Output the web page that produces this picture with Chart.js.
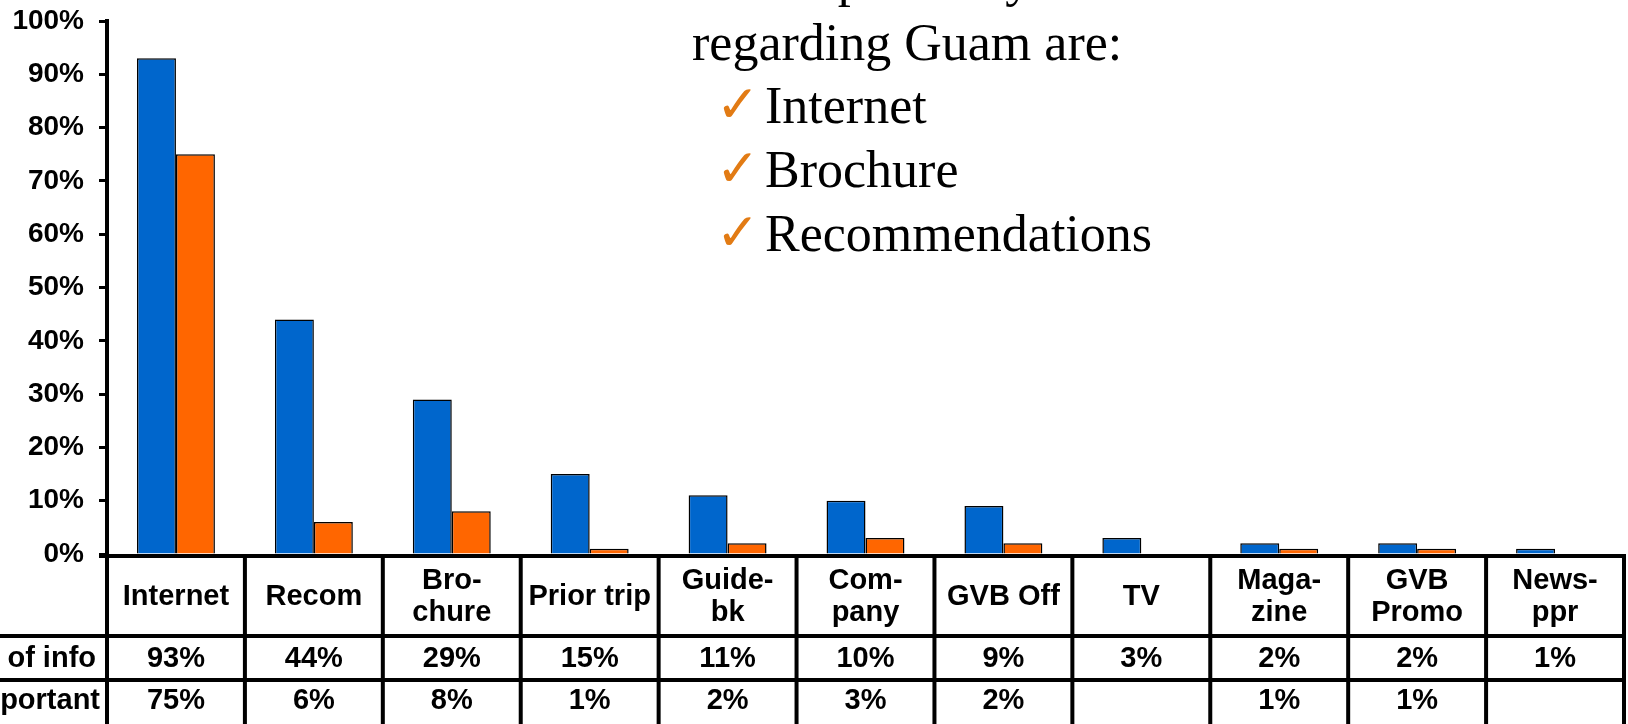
<!DOCTYPE html>
<html>
<head>
<meta charset="utf-8">
<script src="https://cdn.jsdelivr.net/npm/chart.js@4/dist/chart.umd.min.js"></script>
<style>
  html, body { margin: 0; padding: 0; background: #fff; }
  .chart-wrap { width: 1628px; height: 724px; position: relative; }
</style>
</head>
<body>
<div class="chart-wrap"><canvas id="sourcesChart"></canvas></div>
<script>
// categories, with the line breaks used in the table header
const categories = [
  ["Internet"], ["Recom"], ["Bro-", "chure"], ["Prior trip"], ["Guide-", "bk"],
  ["Com-", "pany"], ["GVB Off"], ["TV"], ["Maga-", "zine"], ["GVB", "Promo"], ["News-", "ppr"]
];
const rowLabels = ["Source of info", "Most important"];
const sourceOfInfo = [93, 44, 29, 15, 11, 10, 9, 3, 2, 2, 1];
const mostImportant = [75, 6, 8, 1, 2, 3, 2, null, 1, 1, null];
const yTicks = [0, 10, 20, 30, 40, 50, 60, 70, 80, 90, 100];

const headline = ["Media primarily used", "regarding Guam are:"];
const checkItems = ["Internet", "Brochure", "Recommendations"];

const BLUE = "#0066CC";
const ORANGE = "#FF6600";
const tableFont = "bold 29px 'Century Gothic', 'Liberation Sans', Arial, sans-serif";

// data table under the x axis, laid out on the x scale's category slots
const dataTable = {
  id: "dataTable",
  afterDraw(chart) {
    const { ctx, chartArea } = chart;
    const x = chart.scales.x;
    const n = categories.length;
    const half = (x.getPixelForValue(1) - x.getPixelForValue(0)) / 2;
    const left = x.getPixelForValue(0) - half;
    const right = x.getPixelForValue(n - 1) + half;
    const top = chartArea.bottom;
    const rows = [top + 2, top + 82, top + 126, top + 170];

    ctx.save();
    ctx.strokeStyle = "#000";
    ctx.lineWidth = 4;
    ctx.beginPath();
    ctx.moveTo(left - 8, rows[0]);
    ctx.lineTo(right + 2, rows[0]);
    ctx.moveTo(0, rows[1]);
    ctx.lineTo(right + 2, rows[1]);
    ctx.moveTo(0, rows[2]);
    ctx.lineTo(right + 2, rows[2]);
    for (let i = 0; i <= n; i++) {
      const xe = left + i * half * 2;
      ctx.moveTo(xe, top);
      ctx.lineTo(xe, chart.height);
    }
    ctx.stroke();

    ctx.fillStyle = "#000";
    ctx.font = tableFont;
    ctx.textAlign = "center";
    ctx.textBaseline = "middle";
    const lineH = 32;
    categories.forEach((lines, i) => {
      const cx = x.getPixelForValue(i);
      const cy = (rows[0] + rows[1]) / 2 + 1;
      lines.forEach((t, j) => {
        ctx.fillText(t, cx, cy + (j - (lines.length - 1) / 2) * lineH);
      });
      const a = sourceOfInfo[i];
      const b = mostImportant[i];
      if (a != null) ctx.fillText(a + "%", cx, (rows[1] + rows[2]) / 2 + 1);
      if (b != null) ctx.fillText(b + "%", cx, (rows[2] + rows[3]) / 2 - 1);
    });

    ctx.textAlign = "right";
    ctx.fillText(rowLabels[0], left - 11, (rows[1] + rows[2]) / 2 + 1);
    ctx.fillText(rowLabels[1], left - 7, (rows[2] + rows[3]) / 2 - 1);
    ctx.restore();
  }
};

// text box with the headline and the checked list
const headlineBox = {
  id: "headlineBox",
  afterDraw(chart) {
    const { ctx } = chart;
    const serif = "52px 'Liberation Serif', 'Times New Roman', serif";
    ctx.save();
    ctx.fillStyle = "#000";
    ctx.textAlign = "left";
    ctx.textBaseline = "alphabetic";
    ctx.font = serif;
    ctx.fillText(headline[0], 692, -4);
    ctx.fillText(headline[1], 692, 60);
    checkItems.forEach((t, i) => {
      const base = 123 + i * 64;
      ctx.font = serif;
      ctx.fillStyle = "#000";
      ctx.fillText(t, 765, base);
      ctx.font = "bold 52px 'DejaVu Sans', sans-serif";
      ctx.fillStyle = "#E27B14";
      ctx.fillText("\u2713", 716, base - 1);
    });
    ctx.restore();
  }
};

const ctx = document.getElementById("sourcesChart").getContext("2d");

window.sourcesChart = new Chart(ctx, {
  type: "bar",
  data: {
    labels: categories.map((c) => c.join(" ")),
    datasets: [
      {
        label: rowLabels[0],
        data: sourceOfInfo,
        backgroundColor: BLUE,
        borderColor: "#000",
        borderWidth: 1.5,
      },
      {
        label: rowLabels[1],
        data: mostImportant,
        backgroundColor: ORANGE,
        borderColor: "#000",
        borderWidth: 1.5,
      },
    ],
  },
  options: {
    responsive: true,
    maintainAspectRatio: false,
    animation: false,
    layout: {
      padding: { top: 21, right: 4, bottom: 170, left: 0 },
    },
    datasets: {
      bar: {
        barPercentage: 1,
        categoryPercentage: 0.565,
      },
    },
    scales: {
      x: {
        display: false,
      },
      y: {
        min: 0,
        max: 100,
        afterFit(scale) {
          scale.width = 107;
          scale.paddingTop = 0;
          scale.paddingBottom = 0;
        },
        afterBuildTicks(scale) {
          scale.ticks = yTicks.map((v) => ({ value: v }));
        },
        ticks: {
          color: "#000",
          padding: 15,
          font: {
            family: "'Liberation Sans', Arial, sans-serif",
            size: 28,
            weight: "bold",
          },
          callback: (v) => v + "%",
        },
        grid: {
          drawOnChartArea: false,
          tickLength: 8,
          tickWidth: 3,
          tickColor: "#000",
        },
        border: {
          color: "#000",
          width: 4,
        },
      },
    },
    plugins: {
      legend: { display: false },
      tooltip: { enabled: false },
      title: { display: false },
    },
  },
  plugins: [dataTable, headlineBox],
});
</script>
</body>
</html>
